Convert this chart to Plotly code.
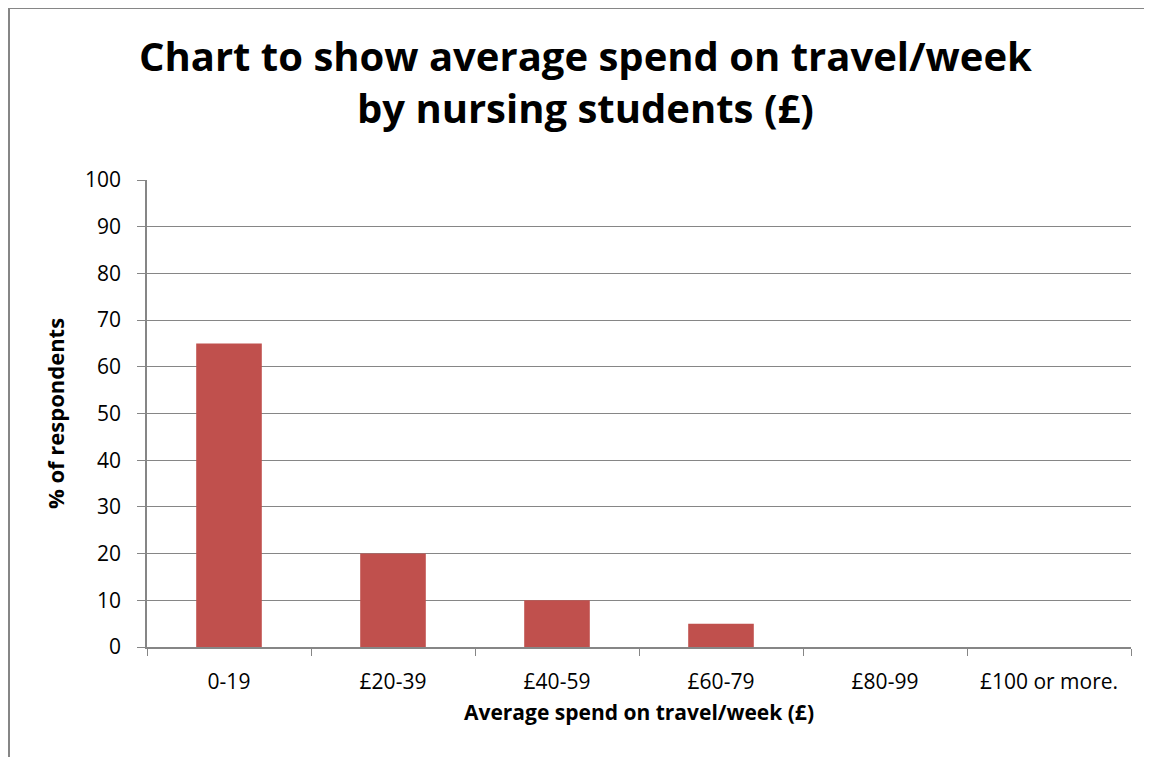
import plotly.graph_objects as go

categories = ["0-19", "£20-39", "£40-59", "£60-79", "£80-99", "£100 or more."]
percent_respondents = [65, 20, 10, 5, 0, 0]

title_text = "Chart to show average spend on travel/week<br>by nursing students (£)"
x_title = "Average spend on travel/week (£)"
y_title = "% of respondents"

font_family = "'Open Sans', Lato, sans-serif"
grey = "#868686"

# page body adds an 8px margin on every side; keep the figure inside the window
W, H = 1136, 749
left, right, top, bottom = 139, 13, 172, 110
pw = W - left - right
ph = H - top - bottom

fig = go.Figure(
    go.Bar(
        x=categories,
        y=percent_respondents,
        marker=dict(color="#C0504D", line=dict(width=0)),
    )
)

fig.update_layout(
    width=W,
    height=H,
    margin=dict(l=left, r=right, t=top, b=bottom),
    paper_bgcolor="white",
    plot_bgcolor="white",
    bargap=0.6,
    showlegend=False,
    font=dict(family=font_family, color="black", size=22),
)

# chart title as an annotation so both lines sit where Excel put them
fig.add_annotation(
    text="<b>" + title_text + "</b>",
    xref="paper",
    yref="paper",
    x=(577 - left) / pw,
    y=1 + (top - 74) / ph,
    xanchor="center",
    yanchor="middle",
    showarrow=False,
    font=dict(size=40, family=font_family, color="black"),
)

fig.update_xaxes(
    showline=True,
    linecolor=grey,
    linewidth=1.5,
    ticks="outside",
    tickson="boundaries",
    ticklen=7,
    tickcolor=grey,
    tickfont=dict(size=21),
    ticklabelstandoff=15,
    showgrid=False,
    title=dict(text="<b>" + x_title + "</b>", font=dict(size=21), standoff=11),
)

fig.update_yaxes(
    range=[0, 100],
    dtick=10,
    showline=True,
    linecolor=grey,
    linewidth=1.5,
    ticks="outside",
    ticklen=8,
    tickcolor=grey,
    tickfont=dict(size=21),
    ticklabelstandoff=12,
    showgrid=True,
    gridcolor=grey,
    gridwidth=1,
    zeroline=False,
    title=dict(text="<b>" + y_title + "</b>", font=dict(size=22), standoff=14),
)

# outer chart border (Excel chart area): only its left and top edges are in view
bx0 = (1 - left) / pw
by_top = (H - bottom) / ph
fig.add_shape(type="line", xref="paper", yref="paper",
              x0=bx0, x1=bx0, y0=-bottom / ph, y1=by_top,
              line=dict(color=grey, width=2), layer="below")
fig.add_shape(type="line", xref="paper", yref="paper",
              x0=bx0, x1=(W - left) / pw, y0=by_top, y1=by_top,
              line=dict(color=grey, width=2), layer="below")

fig.write_html("out.html")
